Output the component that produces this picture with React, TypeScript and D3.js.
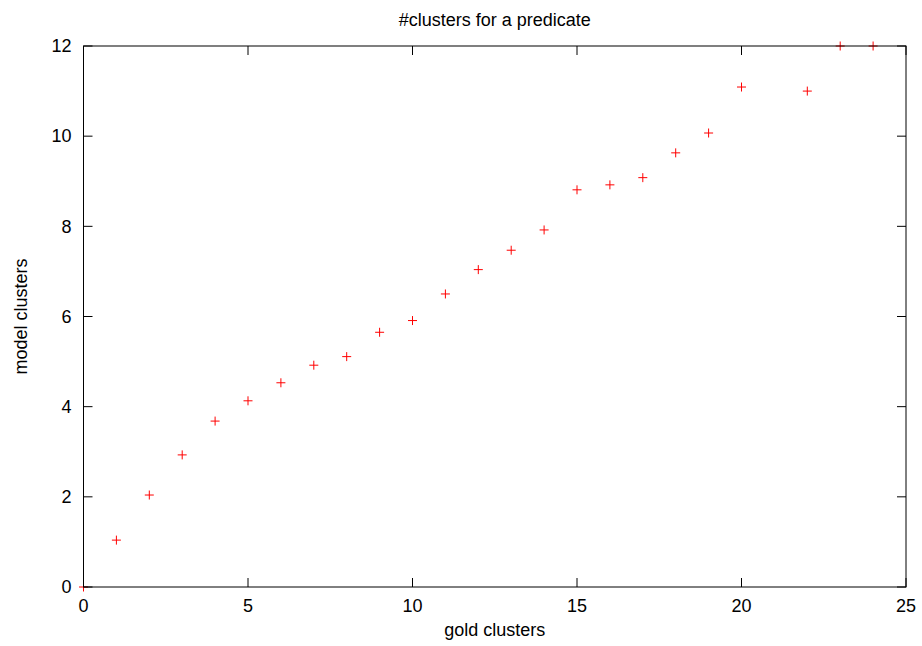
import React from "react";
import * as d3 from "d3";

const goldClusters = [0, 1, 2, 3, 4, 5, 6, 7, 8, 9, 10, 11, 12, 13, 14, 15, 16, 17, 18, 19, 20, 22, 23, 24];
const modelClusters = [0, 1.04, 2.04, 2.93, 3.68, 4.13, 4.53, 4.92, 5.11, 5.65, 5.91, 6.5, 7.04, 7.47, 7.92, 8.81, 8.92, 9.08, 9.63, 10.07, 11.09, 11.0, 12, 12];
const xTicks = [0, 5, 10, 15, 20, 25];
const yTicks = [0, 2, 4, 6, 8, 10, 12];

const W = 922, H = 646;
const L = 83.5, R = 906, T = 46, B = 587;

export default function App() {
  const x = d3.scaleLinear().domain([0, 25]).range([L, R]);
  const y = d3.scaleLinear().domain([0, 12]).range([B, T]);
  const font = "'Liberation Sans', Arial, sans-serif";
  const tl = 9;
  const fs = 18;
  return (
    <svg width={W} height={H} style={{ position: "absolute", left: 0, top: 0 }} fontFamily={font}>
      <rect width={W} height={H} fill="white" />
      {goldClusters.map((g, i) => {
        const cx = x(g), cy = y(modelClusters[i]);
        return (
          <g key={i} stroke="red" strokeWidth={1}>
            <line x1={cx - 4.5} x2={cx + 4.5} y1={cy} y2={cy} />
            <line x1={cx} x2={cx} y1={cy - 4.5} y2={cy + 4.5} />
          </g>
        );
      })}
      <g stroke="black" strokeWidth={1}>
        {xTicks.map((t) => (
          <g key={"x" + t}>
            <line x1={x(t)} x2={x(t)} y1={B} y2={B - tl} />
            <line x1={x(t)} x2={x(t)} y1={T} y2={T + tl} />
          </g>
        ))}
        {yTicks.map((t) => (
          <g key={"y" + t}>
            <line x1={L} x2={L + tl} y1={y(t)} y2={y(t)} />
            <line x1={R} x2={R - tl} y1={y(t)} y2={y(t)} />
          </g>
        ))}
        <rect x={L} y={T} width={R - L} height={B - T} fill="none" />
      </g>
      {xTicks.map((t) => (
        <text key={"xl" + t} x={x(t)} y={612} textAnchor="middle" fontSize={fs}>{t}</text>
      ))}
      {yTicks.map((t) => (
        <text key={"yl" + t} x={L - 12} y={y(t) + 6.3} textAnchor="end" fontSize={fs}>{t}</text>
      ))}
      <text x={(L + R) / 2} y={25.5} textAnchor="middle" fontSize={fs}>#clusters for a predicate</text>
      <text x={(L + R) / 2} y={636} textAnchor="middle" fontSize={fs}>gold clusters</text>
      <text transform={`translate(27,${(T + B) / 2}) rotate(-90)`} textAnchor="middle" fontSize={fs}>model clusters</text>
    </svg>
  );
}
